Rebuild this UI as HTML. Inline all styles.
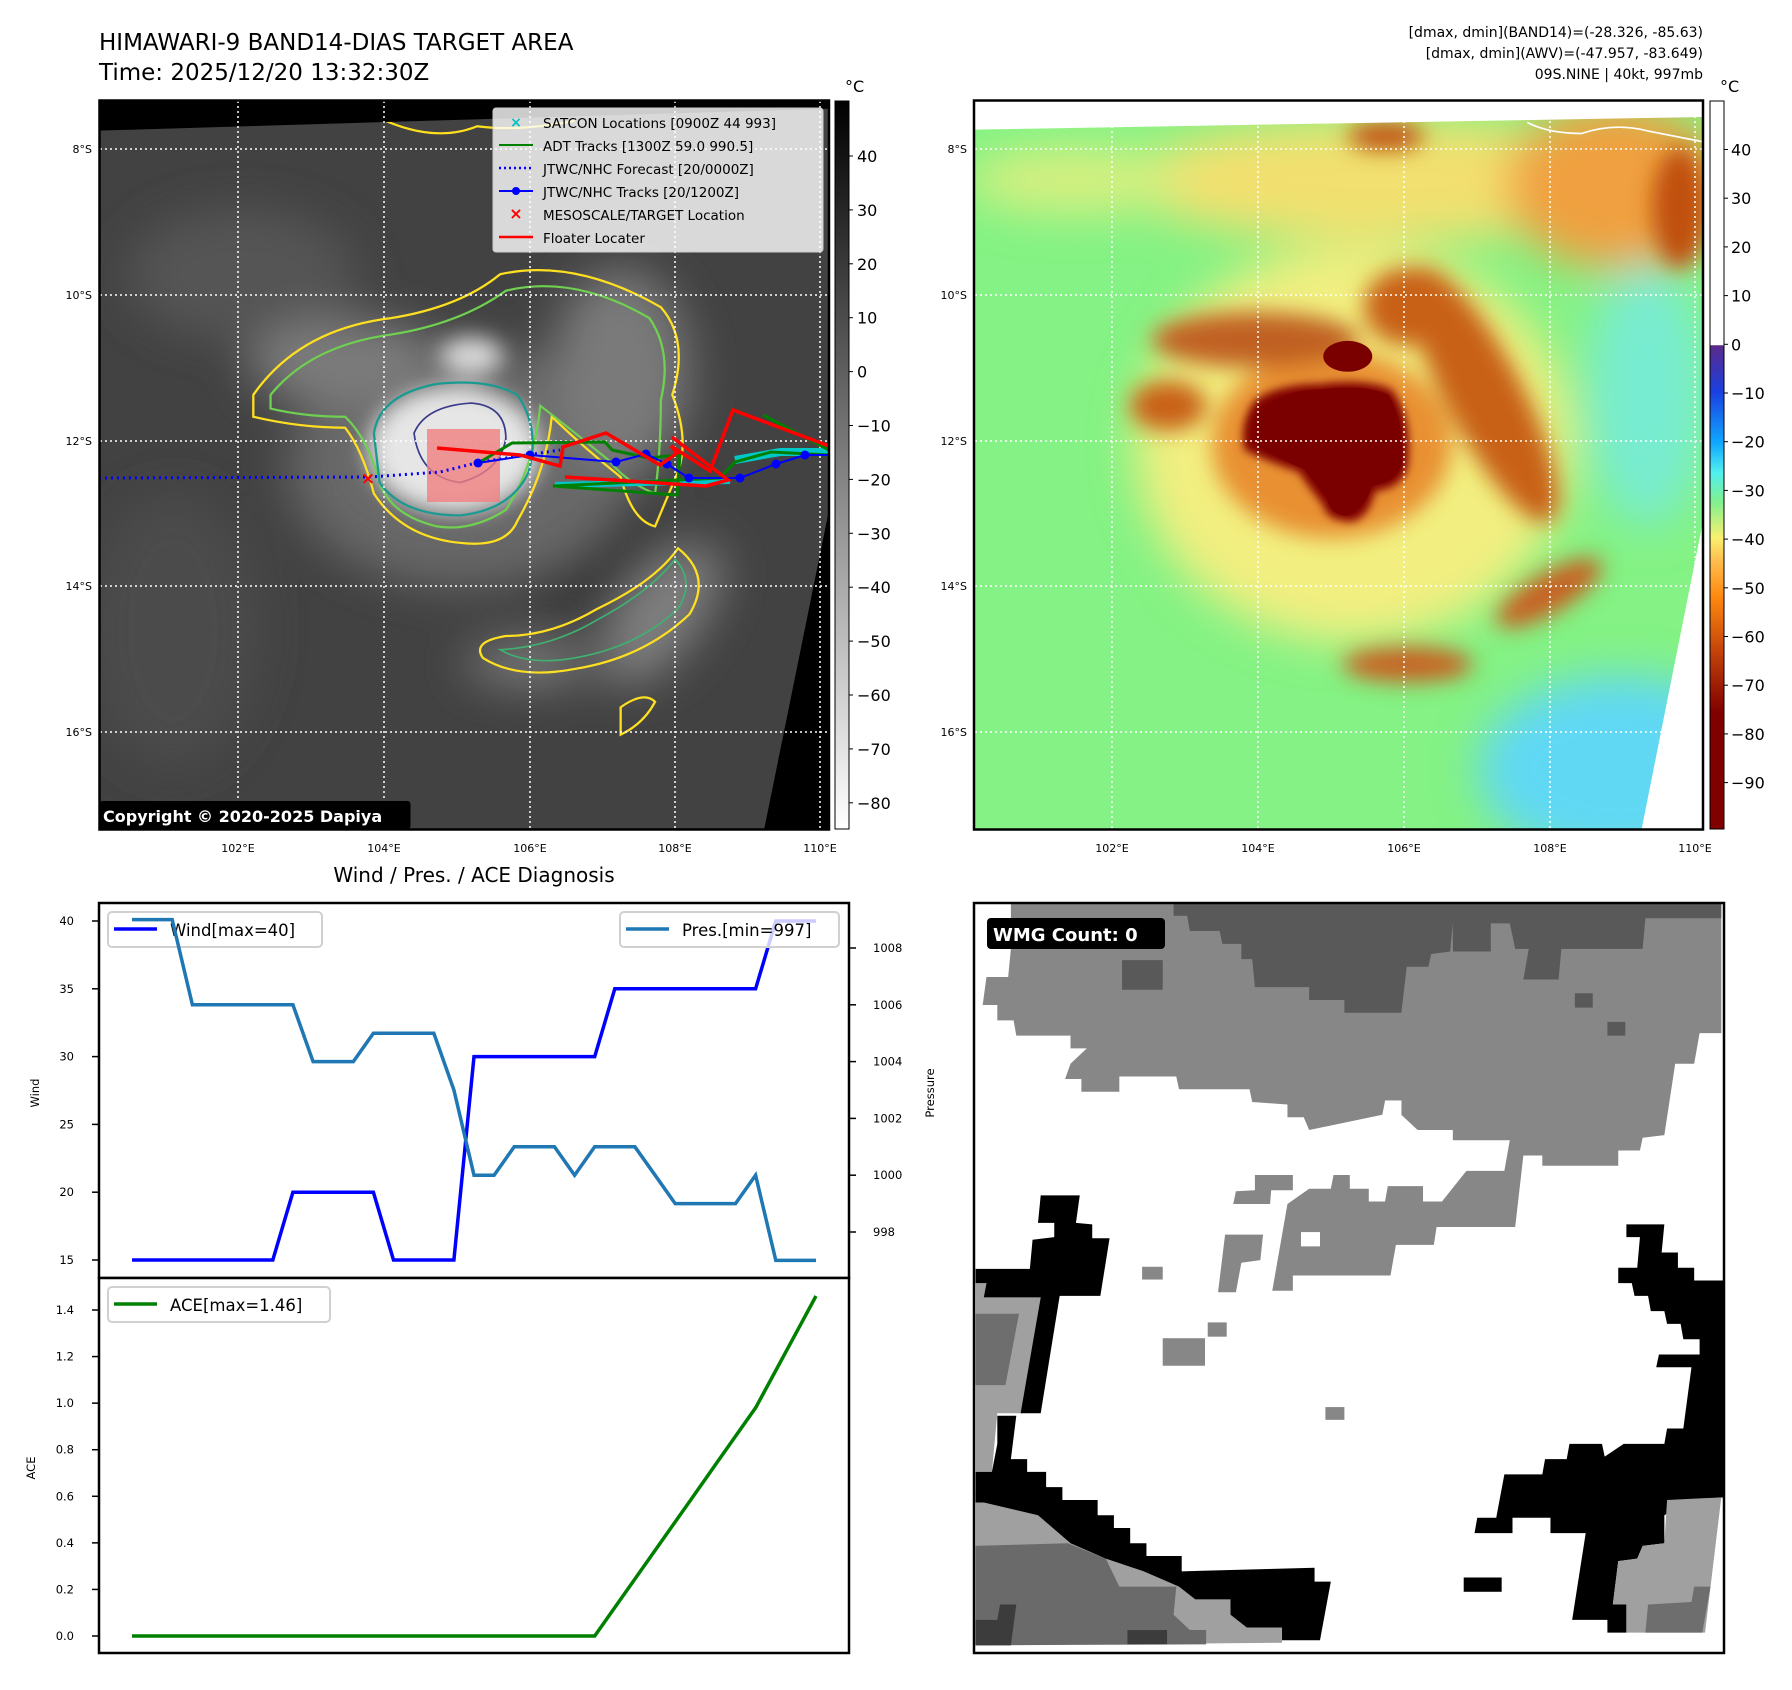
<!DOCTYPE html>
<html><head><meta charset="utf-8">
<style>
html,body{margin:0;padding:0;background:#fff;}
svg{display:block;font-family:"DejaVu Sans","Liberation Sans",sans-serif;}
</style></head>
<body>
<svg id="root" width="1792" height="1690" viewBox="0 0 1792 1690" xmlns="http://www.w3.org/2000/svg">
<defs>
<filter id="b8" x="-20%" y="-20%" width="140%" height="140%"><feGaussianBlur stdDeviation="8"/></filter>
<filter id="b20" x="-30%" y="-30%" width="160%" height="160%"><feGaussianBlur stdDeviation="20"/></filter>
<filter id="b40" x="-40%" y="-40%" width="180%" height="180%"><feGaussianBlur stdDeviation="40"/></filter>
<linearGradient id="cbGray" x1="0" y1="0" x2="0" y2="1"><stop offset="0" stop-color="#000"/><stop offset="1" stop-color="#fff"/></linearGradient>
<linearGradient id="cbColor" x1="0" y1="0" x2="0" y2="1">
<stop offset="0" stop-color="#ffffff"/><stop offset="0.335" stop-color="#ffffff"/>
<stop offset="0.336" stop-color="#5a2a8a"/><stop offset="0.40" stop-color="#1a40e0"/>
<stop offset="0.47" stop-color="#10a8ff"/><stop offset="0.51" stop-color="#50f0f0"/>
<stop offset="0.55" stop-color="#80f090"/><stop offset="0.60" stop-color="#f8f070"/>
<stop offset="0.63" stop-color="#ffc050"/><stop offset="0.68" stop-color="#ff8a10"/>
<stop offset="0.76" stop-color="#c04008"/><stop offset="0.84" stop-color="#800000"/><stop offset="1" stop-color="#800000"/>
</linearGradient>
</defs>

<text x="99" y="50" font-size="23">HIMAWARI-9 BAND14-DIAS TARGET AREA</text>
<text x="99" y="80" font-size="23">Time: 2025/12/20 13:32:30Z</text>
<g font-size="14" text-anchor="end">
<text x="1703" y="37">[dmax, dmin](BAND14)=(-28.326, -85.63)</text>
<text x="1703" y="58">[dmax, dmin](AWV)=(-47.957, -83.649)</text>
<text x="1703" y="79">09S.NINE | 40kt, 997mb</text>
</g>

<!-- LEFT MAP -->
<svg x="99.5" y="100.5" width="729.5" height="729" viewBox="172 183 1271 1330" preserveAspectRatio="none">
<rect x="172" y="183" width="1271" height="1330" fill="#424242"/>
<g filter="url(#b40)">
<ellipse cx="420" cy="500" rx="200" ry="120" fill="#555"/>
<ellipse cx="300" cy="1150" rx="150" ry="250" fill="#4c4c4c"/>
<ellipse cx="1000" cy="1000" rx="150" ry="120" fill="#383838"/>
<ellipse cx="800" cy="850" rx="300" ry="220" fill="#686868"/>
<ellipse cx="1080" cy="680" rx="120" ry="190" fill="#7a7a7a"/>
<ellipse cx="1150" cy="1120" rx="70" ry="150" fill="#808080" transform="rotate(35 1150 1120)"/>
<ellipse cx="920" cy="1210" rx="110" ry="40" fill="#7c7c7c"/>
<ellipse cx="600" cy="660" rx="170" ry="80" fill="#7c7c7c"/>
</g>
<g filter="url(#b20)">
<ellipse cx="790" cy="820" rx="150" ry="115" fill="#e6e6e6"/>
<ellipse cx="820" cy="650" rx="55" ry="35" fill="#d8d8d8"/>
</g>
<g fill="none" stroke-width="4">
<path d="M440 720 Q520 600 680 580 Q800 560 870 500 Q1000 470 1150 560 Q1200 620 1170 720 Q1200 800 1180 860 L1140 960 Q1100 950 1080 870 Q1020 820 960 760 Q950 860 900 950 Q880 1000 800 990 Q700 980 650 900 Q630 820 600 780 Q520 780 440 760 Z" stroke="#ffe020"/>
<path d="M470 720 Q540 630 680 610 Q800 590 880 530 Q1000 500 1130 580 Q1170 640 1150 730 Q1150 820 1140 900 Q1090 880 1060 840 Q990 780 940 740 Q930 850 880 930 Q820 970 760 960 Q680 940 660 880 Q640 800 600 760 Q530 760 470 745 Z" stroke="#70d050"/>
<path d="M650 790 Q660 720 760 700 Q850 690 900 720 Q940 780 920 860 Q890 930 800 940 Q700 940 660 880 Z" stroke="#1a9a90"/>
<path d="M720 790 Q740 740 820 735 Q880 740 880 800 Q870 860 800 880 Q730 870 720 790 Z" stroke="#3a3a8a" stroke-width="3"/>
<path d="M1180 1000 Q1240 1050 1200 1120 Q1120 1200 1000 1220 Q900 1240 840 1200 Q820 1170 880 1160 Q960 1160 1040 1110 Q1140 1060 1180 1000 Z" stroke="#ffe020"/>
<path d="M1175 1020 Q1210 1060 1180 1110 Q1110 1180 1000 1200 Q920 1215 870 1185 Q960 1180 1040 1130 Q1130 1080 1175 1020 Z" stroke="#40b070" stroke-width="3"/>
<path d="M1080 1290 Q1120 1260 1140 1280 Q1120 1320 1080 1340 Z" stroke="#ffe020"/>
<path d="M670 220 Q760 260 830 230 Q900 240 1000 220" stroke="#ffe020"/>
</g>
<polygon points="172,183 1443,183 1443,198 172,238" fill="#000"/>
<polygon points="1443,930 1443,1513 1330,1513" fill="#000"/>
</svg>
<g stroke="#fff" stroke-width="1.5" stroke-dasharray="2,3">
<line x1="238" y1="101" x2="238" y2="829"/><line x1="384" y1="101" x2="384" y2="829"/><line x1="530" y1="101" x2="530" y2="829"/><line x1="675" y1="101" x2="675" y2="829"/><line x1="820" y1="101" x2="820" y2="829"/>
<line x1="100" y1="149" x2="829" y2="149"/><line x1="100" y1="295" x2="829" y2="295"/><line x1="100" y1="441" x2="829" y2="441"/><line x1="100" y1="586" x2="829" y2="586"/><line x1="100" y1="732" x2="829" y2="732"/>
</g>
<g>
<rect x="427" y="429" width="73" height="73" fill="#f08080" opacity="0.8"/>
<polyline points="555,485 730,481" stroke="#00c8c8" stroke-width="6" fill="none"/>
<polyline points="735,460 780,452 829,452" stroke="#00c8c8" stroke-width="8" fill="none"/>
<polyline points="99,478 370,477 440,472 480,462 560,450" stroke="#0000ff" stroke-width="3" stroke-dasharray="2,4" fill="none"/>
<polyline points="480,462 512,443 605,442 612,450 648,458 680,455 677,495 553,486 720,478 735,462 771,452 829,455" stroke="#008000" stroke-width="3" fill="none"/>
<polyline points="763,415 829,450" stroke="#008000" stroke-width="3" fill="none"/>
<polyline points="478,463 530,455 616,462 646,454 667,464 689,478 740,478 776,464 805,455 829,455" stroke="#0000ff" stroke-width="2" fill="none"/>
<g fill="#0000ff"><circle cx="478" cy="463" r="4.5"/><circle cx="530" cy="455" r="4.5"/><circle cx="616" cy="462" r="4.5"/><circle cx="646" cy="454" r="4.5"/><circle cx="667" cy="464" r="4.5"/><circle cx="689" cy="478" r="4.5"/><circle cx="740" cy="478" r="4.5"/><circle cx="776" cy="464" r="4.5"/><circle cx="805" cy="455" r="4.5"/></g>
<polyline points="437,448 520,455 560,466 563,447 606,433 660,465 677,453 671,446 710,471 733,410 829,446" stroke="#ff0000" stroke-width="3.5" fill="none"/>
<polyline points="565,477 706,486 728,480 672,437" stroke="#ff0000" stroke-width="3.5" fill="none"/>
<text x="368" y="484" fill="#ff0000" font-size="17" font-weight="bold" text-anchor="middle">×</text>
</g>
<g>
<rect x="493" y="108" width="330" height="144" rx="3" fill="#fff" fill-opacity="0.8" stroke="#ccc"/>
<g font-size="13.5">
<text x="516" y="127" fill="#00c0c0" font-size="14" text-anchor="middle" font-weight="bold">×</text><text x="543" y="128">SATCON Locations [0900Z 44 993]</text>
<line x1="499" y1="145" x2="533" y2="145" stroke="#008000" stroke-width="2"/><text x="543" y="151">ADT Tracks [1300Z 59.0 990.5]</text>
<line x1="499" y1="168" x2="533" y2="168" stroke="#0000ff" stroke-width="2.5" stroke-dasharray="2,3"/><text x="543" y="174">JTWC/NHC Forecast [20/0000Z]</text>
<line x1="499" y1="191" x2="533" y2="191" stroke="#0000ff" stroke-width="2"/><circle cx="516" cy="191" r="4" fill="#0000ff"/><text x="543" y="197">JTWC/NHC Tracks [20/1200Z]</text>
<text x="516" y="219" fill="#ff0000" font-size="16" text-anchor="middle" font-weight="bold">×</text><text x="543" y="220">MESOSCALE/TARGET Location</text>
<line x1="499" y1="237" x2="533" y2="237" stroke="#ff0000" stroke-width="2.5"/><text x="543" y="243">Floater Locater</text>
</g></g>
<rect x="99.5" y="801" width="311" height="28" fill="#000" rx="3"/>
<text x="103" y="822" fill="#fff" font-size="16" font-weight="bold">Copyright © 2020-2025 Dapiya</text>
<rect x="99.5" y="100.5" width="729.5" height="729" fill="none" stroke="#000" stroke-width="2.5"/>
<g font-size="11" text-anchor="end">
<text x="92" y="153">8°S</text><text x="92" y="299">10°S</text><text x="92" y="445">12°S</text><text x="92" y="590">14°S</text><text x="92" y="736">16°S</text></g>
<g font-size="11" text-anchor="middle">
<text x="238" y="852">102°E</text><text x="384" y="852">104°E</text><text x="530" y="852">106°E</text><text x="675" y="852">108°E</text><text x="820" y="852">110°E</text></g>
<rect x="835" y="101" width="14" height="728" fill="url(#cbGray)" stroke="#000" stroke-width="1"/>
<text x="845" y="92" font-size="16">°C</text>
<g id="cb1ticks" font-size="16"></g>

<!-- RIGHT MAP -->
<svg x="974" y="100.5" width="729" height="729" viewBox="63 185 1340 1325" preserveAspectRatio="none">
<rect x="63" y="185" width="1340" height="1325" fill="#84f284"/>
<g filter="url(#b40)">
<ellipse cx="1250" cy="1400" rx="260" ry="170" fill="#60d8f4"/>
<ellipse cx="1300" cy="720" rx="110" ry="240" fill="#78ecd0"/>
<ellipse cx="760" cy="810" rx="400" ry="360" fill="#f2ef80"/>
<ellipse cx="820" cy="330" rx="480" ry="110" fill="#f2e070"/>
<ellipse cx="1240" cy="340" rx="200" ry="150" fill="#f0a040"/>
<ellipse cx="250" cy="330" rx="200" ry="60" fill="#d8f080"/>
</g>
<g filter="url(#b20)">
<ellipse cx="720" cy="810" rx="220" ry="170" fill="#e89030"/>
<ellipse cx="1000" cy="720" rx="70" ry="260" fill="#c86018" transform="rotate(-28 1000 720)"/>
<ellipse cx="860" cy="560" rx="80" ry="70" fill="#c86018"/>
<ellipse cx="580" cy="620" rx="190" ry="50" fill="#c06020"/>
<ellipse cx="420" cy="740" rx="70" ry="45" fill="#c86018"/>
<ellipse cx="860" cy="1210" rx="120" ry="32" fill="#c86020"/>
<ellipse cx="1120" cy="1080" rx="110" ry="36" fill="#c86020" transform="rotate(-30 1120 1080)"/>
<ellipse cx="1360" cy="380" rx="50" ry="110" fill="#c05010"/>
<ellipse cx="820" cy="250" rx="70" ry="25" fill="#c05010"/>
</g>
<path d="M580 730 Q620 700 700 700 Q780 690 830 710 Q870 760 860 850 Q850 890 800 895 Q790 940 760 950 Q710 950 705 920 Q680 890 660 860 Q600 840 560 820 Q550 770 580 730 Z" fill="#800000" filter="url(#b8)"/>
<path d="M600 740 Q640 710 700 710 Q780 700 825 720 Q855 770 850 845 Q840 880 795 885 Q780 930 750 940 Q720 940 712 910 Q690 880 670 855 Q620 835 585 815 Q575 770 600 740 Z" fill="#7a0000"/>
<ellipse cx="750" cy="650" rx="45" ry="28" fill="#7a0000"/>
<polygon points="63,185 1403,185 1403,215 63,238" fill="#fff"/>
<polygon points="1403,950 1403,1510 1290,1510" fill="#fff"/>
<path d="M1080 225 Q1120 245 1180 245 Q1240 225 1300 240 L1403 260" stroke="#fff" stroke-width="3" fill="none"/>
</svg>
<g stroke="#fff" stroke-width="1.5" stroke-dasharray="2,3">
<line x1="1112" y1="101" x2="1112" y2="829"/><line x1="1258" y1="101" x2="1258" y2="829"/><line x1="1404" y1="101" x2="1404" y2="829"/><line x1="1550" y1="101" x2="1550" y2="829"/><line x1="1695" y1="101" x2="1695" y2="829"/>
<line x1="975" y1="149" x2="1703" y2="149"/><line x1="975" y1="295" x2="1703" y2="295"/><line x1="975" y1="441" x2="1703" y2="441"/><line x1="975" y1="586" x2="1703" y2="586"/><line x1="975" y1="732" x2="1703" y2="732"/>
</g>
<rect x="974" y="100.5" width="729" height="729" fill="none" stroke="#000" stroke-width="2.5"/>
<g font-size="11" text-anchor="end">
<text x="967" y="153">8°S</text><text x="967" y="299">10°S</text><text x="967" y="445">12°S</text><text x="967" y="590">14°S</text><text x="967" y="736">16°S</text></g>
<g font-size="11" text-anchor="middle">
<text x="1112" y="852">102°E</text><text x="1258" y="852">104°E</text><text x="1404" y="852">106°E</text><text x="1550" y="852">108°E</text><text x="1695" y="852">110°E</text></g>
<rect x="1710" y="101" width="14" height="728" fill="url(#cbColor)" stroke="#000" stroke-width="1"/>
<text x="1720" y="92" font-size="16">°C</text>
<g id="cb2ticks" font-size="16"></g>

<text x="474" y="882" font-size="20" text-anchor="middle">Wind / Pres. / ACE Diagnosis</text>
<g id="diag"></g>

<!-- WMG PANEL -->
<svg x="974" y="903" width="750" height="750" viewBox="62 45 1383 1470" preserveAspectRatio="none">
<rect x="62" y="45" width="1383" height="1470" fill="#fff"/>
<polygon fill="#878787" points="130,45 1440,45 1440,300 1400,300 1390,360 1355,360 1335,500 1295,505 1290,530 1250,530 1250,560 1110,560 1110,540 1075,540 1060,680 915,680 910,715 840,715 830,775 650,775 650,805 612,805 640,635 680,605 720,605 725,578 755,578 755,605 790,605 790,630 820,630 825,600 890,600 890,630 925,630 970,570 1040,570 1050,510 945,510 945,490 880,490 850,460 850,432 820,432 815,460 680,490 670,465 640,465 640,440 575,435 570,410 440,410 435,385 330,385 330,415 260,415 260,390 230,390 240,360 270,330 240,330 240,305 140,305 135,275 105,275 105,245 78,245 85,190 125,190 130,135"/>
<polygon fill="#595959" points="430,45 1440,45 1440,75 1300,75 1295,135 1145,135 1140,195 1075,195 1085,135 1060,135 1050,85 1015,85 1015,140 945,140 945,85 940,140 905,145 900,170 860,170 850,260 745,260 745,235 680,235 680,210 580,210 575,155 555,155 555,125 520,125 515,100 460,100 455,70 430,70"/>
<rect x="335" y="157" width="75" height="58" fill="#595959"/><rect x="1170" y="222" width="33" height="28" fill="#595959"/><rect x="1230" y="278" width="33" height="27" fill="#595959"/>
<rect x="665" y="690" width="35" height="28" fill="#fff"/><rect x="820" y="432" width="30" height="28" fill="#fff"/>
<g fill="#878787"><rect x="372" y="758" width="38" height="25"/><rect x="410" y="898" width="78" height="54"/><rect x="493" y="867" width="35" height="28"/><rect x="710" y="1033" width="35" height="25"/><polygon points="525,695 595,695 590,745 555,750 545,808 512,808"/><polygon points="580,578 650,578 650,608 610,608 608,635 540,635 545,610 580,608"/></g>
<polygon fill="#a0a0a0" points="65,790 85,790 80,818 185,818 150,1045 105,1045 95,1160 65,1160"/>
<polygon fill="#6e6e6e" points="65,850 145,850 120,990 65,990"/>
<polygon fill="#000" points="185,618 257,618 250,672 280,675 280,702 312,702 295,815 220,815 185,1045 148,1045 185,818 80,818 85,790 65,790 65,762 165,762 170,705 210,700 210,672 180,672"/>
<polygon fill="#a0a0a0" points="65,1195 80,1220 180,1245 240,1300 305,1330 375,1355 440,1385 470,1410 535,1410 535,1440 565,1465 630,1465 630,1495 65,1500"/>
<polygon fill="#6a6a6a" points="65,1305 235,1300 305,1330 330,1385 435,1385 430,1440 460,1470 490,1470 490,1498 65,1500"/>
<polygon fill="#3c3c3c" points="65,1450 105,1450 110,1420 140,1420 130,1500 65,1500"/>
<rect x="345" y="1470" width="73" height="28" fill="#3c3c3c"/>
<polygon fill="#000" points="105,1050 140,1050 130,1135 160,1135 160,1160 195,1160 195,1190 225,1190 225,1215 290,1215 290,1245 320,1245 320,1270 350,1270 350,1300 380,1300 380,1325 445,1325 445,1355 690,1348 690,1375 720,1375 700,1490 630,1490 630,1465 565,1465 535,1440 535,1410 470,1410 440,1385 375,1355 305,1330 240,1300 180,1245 80,1220 65,1220 65,1160 95,1160 105,1105"/>
<polygon fill="#000" points="1265,675 1335,675 1330,730 1360,730 1360,760 1390,760 1390,785 1445,785 1445,1210 1385,1215 1335,1245 1335,1300 1295,1305 1285,1330 1250,1335 1240,1420 1265,1420 1265,1475 1230,1475 1230,1450 1165,1450 1190,1280 1125,1280 1125,1250 1055,1250 1055,1280 985,1280 990,1250 1025,1250 1040,1165 1110,1165 1115,1135 1155,1135 1160,1105 1220,1105 1225,1130 1260,1105 1335,1105 1340,1075 1370,1075 1385,955 1320,955 1325,930 1400,930 1400,900 1370,900 1365,870 1340,870 1335,845 1310,845 1305,815 1280,815 1275,790 1250,790 1250,760 1285,760 1290,700 1265,700"/>
<rect x="965" y="1367" width="70" height="28" fill="#000"/>
<polygon fill="#a0a0a0" points="1340,1215 1440,1210 1410,1475 1265,1475 1265,1420 1240,1420 1250,1335 1285,1330 1295,1305 1335,1300"/>
<polygon fill="#6e6e6e" points="1305,1420 1385,1415 1390,1385 1420,1385 1405,1475 1300,1475"/>
</svg>
<rect x="974" y="903" width="750" height="750" fill="none" stroke="#000" stroke-width="2.5"/>
<rect x="987" y="918" width="178" height="31" rx="4" fill="#000"/>
<text x="993" y="941" fill="#fff" font-size="18" font-weight="bold">WMG Count: 0</text>
</svg>

<script>
const windVals = [15,15,15,15,15,15,15,15,20,20,20,20,20,15,15,15,15,30,30,30,30,30,30,30,35,35,35,35,35,35,35,35,40,40,40];
const presVals = [1009,1009,1009,1006,1006,1006,1006,1006,1006,1004,1004,1004,1005,1005,1005,1005,1003,1000,1000,1001,1001,1001,1000,1001,1001,1001,1000,999,999,999,999,1000,997,997,997];
const aceVals = [0,0,0,0,0,0,0,0,0,0,0,0,0,0,0,0,0,0,0,0,0,0,0,0,0.1225,0.245,0.3675,0.49,0.6125,0.735,0.8575,0.98,1.14,1.30,1.46];
const windTicks = [15,20,25,30,35,40];
const presTicks = [998,1000,1002,1004,1006,1008];
const aceTicks = [0.0,0.2,0.4,0.6,0.8,1.0,1.2,1.4];
const cb1Ticks = [40,30,20,10,0,-10,-20,-30,-40,-50,-60,-70,-80];
const cb2Ticks = [40,30,20,10,0,-10,-20,-30,-40,-50,-60,-70,-80,-90];

const NS = 'http://www.w3.org/2000/svg';
function mk(tag, attrs, parent){const e=document.createElementNS(NS,tag);for(const k in attrs)e.setAttribute(k,attrs[k]);parent.appendChild(e);return e;}

const xScale = i => 132 + i*(816-132)/(windVals.length-1);
const yWind = v => 1260 - (v-15)*(339/25);
const yPres = v => 1232 - (v-998)*28.4;
const yAce = v => 1636 - v*(326/1.4);
const yCb1 = v => 156 + (40-v)*5.39;
const yCb2 = v => 149.5 + (40-v)*4.87;

const g = document.getElementById('diag');
let r = mk('rect',{x:99,y:903,width:750,height:375,fill:'#fff',stroke:'#000','stroke-width':2.5},g);


r = mk('rect',{x:99,y:1278,width:750,height:375,fill:'#fff',stroke:'#000','stroke-width':2.5},g);



windTicks.forEach(t=>{
  const y=yWind(t);
  mk('line',{x1:92,y1:y,x2:99,y2:y,stroke:'#000','stroke-width':1.5},g);
  const tx=mk('text',{x:74,y:y+4,'font-size':11.5,'text-anchor':'end'},g);
  tx.textContent=t;
  
  
});
presTicks.forEach(t=>{
  const y=yPres(t);
  mk('line',{x1:849,y1:y,x2:856,y2:y,stroke:'#000','stroke-width':1.5},g);
  const tx=mk('text',{x:873,y:y+4,'font-size':11.5},g);
  tx.textContent=t;
  
  
});
aceTicks.forEach(t=>{
  const y=yAce(t);
  mk('line',{x1:92,y1:y,x2:99,y2:y,stroke:'#000','stroke-width':1.5},g);
  const tx=mk('text',{x:74,y:y+4,'font-size':11.5,'text-anchor':'end'},g);
  tx.textContent=t.toFixed(1);
  
  
});
let lab=mk('text',{x:39,y:1093,'font-size':11.5,'text-anchor':'middle',transform:'rotate(-90 39 1093)'},g);
lab.textContent='Wind';


lab=mk('text',{x:934,y:1093,'font-size':11.5,'text-anchor':'middle',transform:'rotate(-90 934 1093)'},g);
lab.textContent='Pressure';


lab=mk('text',{x:35,y:1468,'font-size':11.5,'text-anchor':'middle',transform:'rotate(-90 35 1468)'},g);
lab.textContent='ACE';



function line(vals, yf, color, name){
  const pts = vals.map((v,i)=>xScale(i).toFixed(1)+','+yf(v).toFixed(1)).join(' ');
  const p = mk('polyline',{points:pts,fill:'none',stroke:color,'stroke-width':3.5,'stroke-linejoin':'miter'},g);
  
  
}
function legend(x,y,w,color,label,name){
  const lg=mk('g',{},g);
  
  
  mk('rect',{x:x,y:y,width:w,height:35,rx:4,fill:'#fff','fill-opacity':0.8,stroke:'#d0d0d0','stroke-width':2},lg);
  mk('line',{x1:x+6,y1:y+17,x2:x+49,y2:y+17,stroke:color,'stroke-width':3.5},lg);
  const t=mk('text',{x:x+62,y:y+24,'font-size':16.5},lg);
  t.textContent=label;
}
line(windVals, yWind, '#0000ff', 'wind-line');
legend(108,912,214,'#0000ff','Wind[max=40]','wind-legend');
line(presVals, yPres, '#1f77b4', 'pressure-line');
legend(620,912,219,'#1f77b4','Pres.[min=997]','pressure-legend');
line(aceVals, yAce, '#008000', 'ace-line');
legend(108,1287,222,'#008000','ACE[max=1.46]','ace-legend');

const c1=document.getElementById('cb1ticks');
cb1Ticks.forEach(t=>{
  const y=yCb1(t);
  mk('line',{x1:849,y1:y,x2:853,y2:y,stroke:'#000'},c1);
  const tx=mk('text',{x:857,y:y+6},c1);
  tx.textContent=String(t).replace('-','\u2212');
  
  
});
const c2=document.getElementById('cb2ticks');
cb2Ticks.forEach(t=>{
  const y=yCb2(t);
  mk('line',{x1:1724,y1:y,x2:1728,y2:y,stroke:'#000'},c2);
  const tx=mk('text',{x:1731,y:y+6},c2);
  tx.textContent=String(t).replace('-','\u2212');
  
  
});
</script>
</body></html>
